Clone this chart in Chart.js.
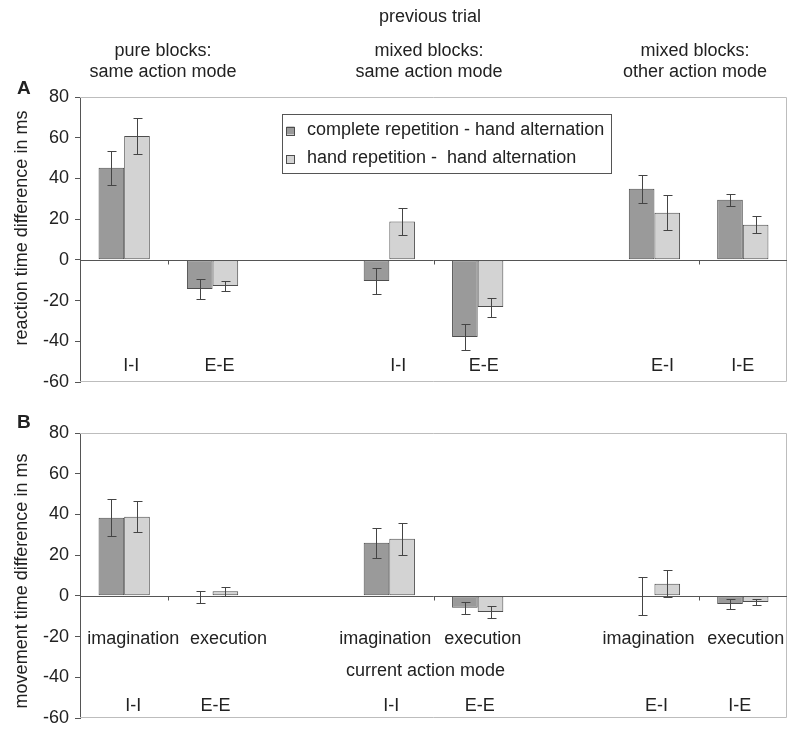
<!DOCTYPE html>
<html><head><meta charset="utf-8">
<script src="https://cdn.jsdelivr.net/npm/chart.js@4"></script>
<style>
body{margin:0;background:#fff;width:800px;height:734px;position:relative;overflow:hidden;font-family:"Liberation Sans",Arial,sans-serif;color:#222}
.t{position:absolute;font-size:18px;text-align:center;white-space:nowrap;transform:translateX(-50%);line-height:21px}
.p{position:absolute;font-size:19px;font-weight:bold}
#cA{position:absolute;left:0;top:0}
#cB{position:absolute;left:0;top:390px}
</style></head><body>
<canvas id="cA" width="800" height="410"></canvas>
<canvas id="cB" width="800" height="360"></canvas>
<div class="t" style="left:430px;top:6px">previous trial</div>
<div class="t" style="left:163px;top:40px">pure blocks:<br>same action mode</div>
<div class="t" style="left:429px;top:40px">mixed blocks:<br>same action mode</div>
<div class="t" style="left:695px;top:40px">mixed blocks:<br>other action mode</div>
<div class="p" style="left:17px;top:77px">A</div>
<div class="p" style="left:17px;top:411px">B</div>
<script>
// ---- data ----
const categories = ['I-I','E-E','','I-I','E-E','','E-I','I-E'];
const modeLabels = ['imagination','execution','','imagination','execution','','imagination','execution'];
const seriesNames = ['complete repetition - hand alternation','hand repetition -  hand alternation'];
const yTicks = [-60,-40,-20,0,20,40,60,80];
// Panel A: reaction time differences (ms) and error half-widths
const rtComplete    = [45.3,-14.3,null,-10.4,-37.9,null,34.9,29.5];
const rtCompleteErr = [8.4,5.0,null,6.3,6.4,null,6.8,2.9];
const rtHand        = [60.9,-12.8,null,18.8,-23.2,null,23.2,17.3];
const rtHandErr     = [9.0,2.6,null,6.7,4.7,null,8.7,4.1];
// Panel B: movement time differences (ms) and error half-widths
const mtComplete    = [38.4,-0.6,null,26.1,-5.9,null,-0.2,-4.0];
const mtCompleteErr = [9.1,2.9,null,7.4,2.9,null,9.4,2.7];
const mtHand        = [38.9,2.3,null,28.0,-7.9,null,5.9,-3.0];
const mtHandErr     = [7.6,2.2,null,7.8,3.0,null,6.6,1.7];

const FONT = '"Liberation Sans", Arial, sans-serif';
const DARK = '#9a9a9a', LIGHT = '#d3d3d3', EDGE = '#4d4d4d';

const decorPlugin = {
  id: 'decor',
  afterDatasetsDraw(chart, args, o) {
    const ctx = chart.ctx, y = chart.scales.y, x = chart.scales.x, a = chart.chartArea;
    ctx.save();
    // frame (top, right, bottom)
    ctx.strokeStyle = '#bdbdbd'; ctx.lineWidth = 1;
    ctx.beginPath();
    ctx.moveTo(a.left, a.top + 0.5); ctx.lineTo(a.right - 0.5, a.top + 0.5);
    ctx.lineTo(a.right - 0.5, a.bottom - 0.5); ctx.lineTo(a.left, a.bottom - 0.5);
    ctx.stroke();
    // zero line
    const y0 = Math.round(y.getPixelForValue(0)) + 0.5;
    ctx.strokeStyle = '#555';
    ctx.beginPath(); ctx.moveTo(a.left, y0); ctx.lineTo(a.right, y0); ctx.stroke();
    // category tick marks
    [1,4,7].forEach(k => {
      const xp = Math.round((x.getPixelForValue(k-1) + x.getPixelForValue(k)) / 2) + 0.5;
      ctx.beginPath(); ctx.moveTo(xp, y0); ctx.lineTo(xp, y0 + 4); ctx.stroke();
    });
    // error bars
    ctx.strokeStyle = '#444';
    chart.data.datasets.forEach((ds, i) => {
      const meta = chart.getDatasetMeta(i);
      meta.data.forEach((bar, j) => {
        const v = ds.data[j], e = ds.errors[j];
        if (v == null || e == null) return;
        const xp = Math.round(bar.x) + 0.5;
        const yt = Math.round(y.getPixelForValue(v + e)) + 0.5;
        const yb = Math.round(y.getPixelForValue(v - e)) + 0.5;
        ctx.beginPath();
        ctx.moveTo(xp, yt); ctx.lineTo(xp, yb);
        ctx.moveTo(xp - 4, yt); ctx.lineTo(xp + 5, yt);
        ctx.moveTo(xp - 4, yb); ctx.lineTo(xp + 5, yb);
        ctx.stroke();
      });
    });
    // in-plot labels
    ctx.fillStyle = '#222';
    ctx.font = '18px ' + FONT;
    ctx.textAlign = 'center'; ctx.textBaseline = 'middle';
    categories.forEach((c, i) => {
      if (c) ctx.fillText(c, x.getPixelForValue(i) + o.catDx[i], a.bottom - o.catOffset);
    });
    if (o.modes) {
      modeLabels.forEach((c, i) => {
        if (c) ctx.fillText(c, x.getPixelForValue(i) + o.modeDx[i], y.getPixelForValue(-21));
      });
      ctx.fillText('current action mode', (x.getPixelForValue(3) + x.getPixelForValue(4)) / 2 - 8, y.getPixelForValue(-37));
    }
    // y title
    ctx.save();
    ctx.translate(22, o.titleY);
    ctx.rotate(-Math.PI / 2);
    ctx.fillText(o.title, 0, 0);
    ctx.restore();
    // legend
    if (o.legend) {
      ctx.fillStyle = '#fff';
      ctx.fillRect(282, 114, 329, 59);
      ctx.strokeStyle = '#555';
      ctx.strokeRect(282.5, 114.5, 329, 59);
      chart.data.datasets.forEach((ds, i) => {
        const cy = 130 + i * 28.5;
        ctx.fillStyle = ds.backgroundColor;
        ctx.fillRect(286.5, cy - 3.5, 8, 8);
        ctx.strokeStyle = EDGE;
        ctx.strokeRect(286.5, Math.round(cy - 3.5) + 0.5, 8, 8);
        ctx.fillStyle = '#222';
        ctx.textAlign = 'left';
        ctx.fillText(ds.label, 307, cy);
      });
    }
    ctx.restore();
  }
};

function makeChart(id, d1, e1, d2, e2, padBottom, pluginOpts) {
  return new Chart(document.getElementById(id), {
    type: 'bar',
    data: {
      labels: categories,
      datasets: [
        {label: seriesNames[0], data: d1, errors: e1, backgroundColor: DARK, borderColor: EDGE, borderWidth: 1, borderSkipped: false,
         categoryPercentage: 0.58, barPercentage: 1.0},
        {label: seriesNames[1], data: d2, errors: e2, backgroundColor: LIGHT, borderColor: EDGE, borderWidth: 1, borderSkipped: false,
         categoryPercentage: 0.58, barPercentage: 1.0}
      ]
    },
    options: {
      responsive: false, animation: false, devicePixelRatio: 1,
      layout: {padding: {left: 0, right: 13, top: pluginOpts.padTop, bottom: padBottom}},
      plugins: {legend: {display: false}, tooltip: {enabled: false}, decor: pluginOpts},
      scales: {
        x: {display: false, offset: true},
        y: {
          min: -60, max: 80,
          afterBuildTicks: s => { s.ticks = yTicks.map(v => ({value: v})); },
          afterFit: s => { s.width = 80; },
          ticks: {font: {family: FONT, size: 18}, color: '#222', padding: 6},
          grid: {drawOnChartArea: false, tickLength: 5, color: '#555'},
          border: {color: '#555'}
        }
      }
    },
    plugins: [decorPlugin]
  });
}

makeChart('cA', rtComplete, rtCompleteErr, rtHand, rtHandErr, 28,
  {padTop: 97, catOffset: 16, catDx: [7,7,0,9,6,0,8,0], modes: false, legend: true,
   title: 'reaction time difference in ms', titleY: 228});
makeChart('cB', mtComplete, mtCompleteErr, mtHand, mtHandErr, 32,
  {padTop: 43, catOffset: 12, catDx: [9,3,0,2,2,0,2,-3], modeDx: [9,16,0,-4,5,0,-6,3], modes: true, legend: false,
   title: 'movement time difference in ms', titleY: 191});
</script>
</body></html>
